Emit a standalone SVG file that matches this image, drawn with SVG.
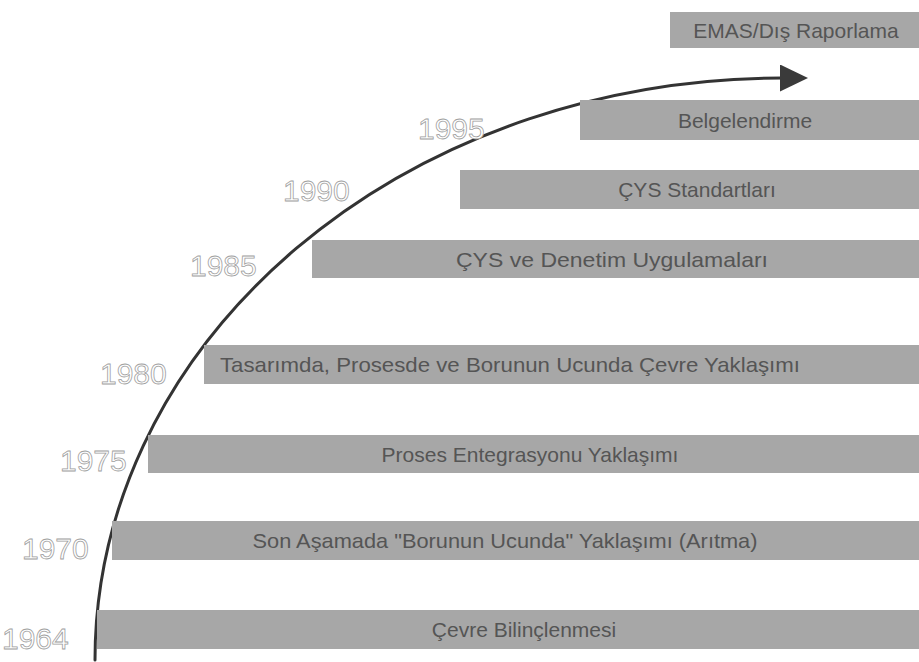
<svg xmlns="http://www.w3.org/2000/svg" width="919" height="662" viewBox="0 0 919 662">
  <style>
    .bar { fill: #a7a7a7; }
    .label { font-family: "Liberation Sans", Arial, sans-serif; font-size: 21px; fill: #555555; text-anchor: middle; }
    .year { font-family: "Liberation Sans", Arial, sans-serif; font-size: 30px; fill: #ffffff; stroke: #a0a0a0; stroke-width: 0.8; }
    .timeline { fill: none; stroke: #333333; stroke-width: 3; stroke-linecap: round; }
  </style>
  <defs>
    <marker id="arrowhead" markerUnits="userSpaceOnUse" markerWidth="30" markerHeight="30" refX="2" refY="13.5" orient="auto">
      <polygon points="0,0 28,13.5 0,27" fill="#3a3a3a"/>
    </marker>
  </defs>
  <rect width="919" height="662" fill="#ffffff"/>

  <!-- rising timeline arc -->
  <g id="connectors">
    <path class="timeline" d="M 95 660 A 687 582 0 0 1 782 78" marker-end="url(#arrowhead)"/>
  </g>

  <g id="node-1964">
    <rect class="bar" x="97" y="610" width="822" height="39"/>
    <text class="label" x="524" y="637">Çevre Bilinçlenmesi</text>
    <text class="year" x="2" y="649">1964</text>
  </g>
  <g id="node-1970">
    <rect class="bar" x="112" y="521" width="807" height="39"/>
    <text class="label" x="505" y="548" textLength="505" lengthAdjust="spacingAndGlyphs">Son Aşamada "Borunun Ucunda" Yaklaşımı (Arıtma)</text>
    <text class="year" x="22" y="559">1970</text>
  </g>
  <g id="node-1975">
    <rect class="bar" x="148" y="435" width="771" height="38"/>
    <text class="label" x="530" y="462">Proses Entegrasyonu Yaklaşımı</text>
    <text class="year" x="60" y="471">1975</text>
  </g>
  <g id="node-1980">
    <rect class="bar" x="204" y="345" width="715" height="39"/>
    <text class="label" x="510" y="372" textLength="580" lengthAdjust="spacingAndGlyphs">Tasarımda, Prosesde ve Borunun Ucunda Çevre Yaklaşımı</text>
    <text class="year" x="100" y="384">1980</text>
  </g>
  <g id="node-1985">
    <rect class="bar" x="312" y="240" width="607" height="38"/>
    <text class="label" x="612" y="267" textLength="312" lengthAdjust="spacingAndGlyphs">ÇYS ve Denetim Uygulamaları</text>
    <text class="year" x="190" y="276">1985</text>
  </g>
  <g id="node-1990">
    <rect class="bar" x="460" y="170" width="459" height="39"/>
    <text class="label" x="697" y="197">ÇYS Standartları</text>
    <text class="year" x="283" y="201">1990</text>
  </g>
  <g id="node-1995">
    <rect class="bar" x="580" y="100" width="339" height="40"/>
    <text class="label" x="745" y="128">Belgelendirme</text>
    <text class="year" x="418" y="139">1995</text>
  </g>
  <g id="node-emas">
    <rect class="bar" x="670" y="12" width="249" height="36"/>
    <text class="label" x="796" y="38">EMAS/Dış Raporlama</text>
  </g>
</svg>
